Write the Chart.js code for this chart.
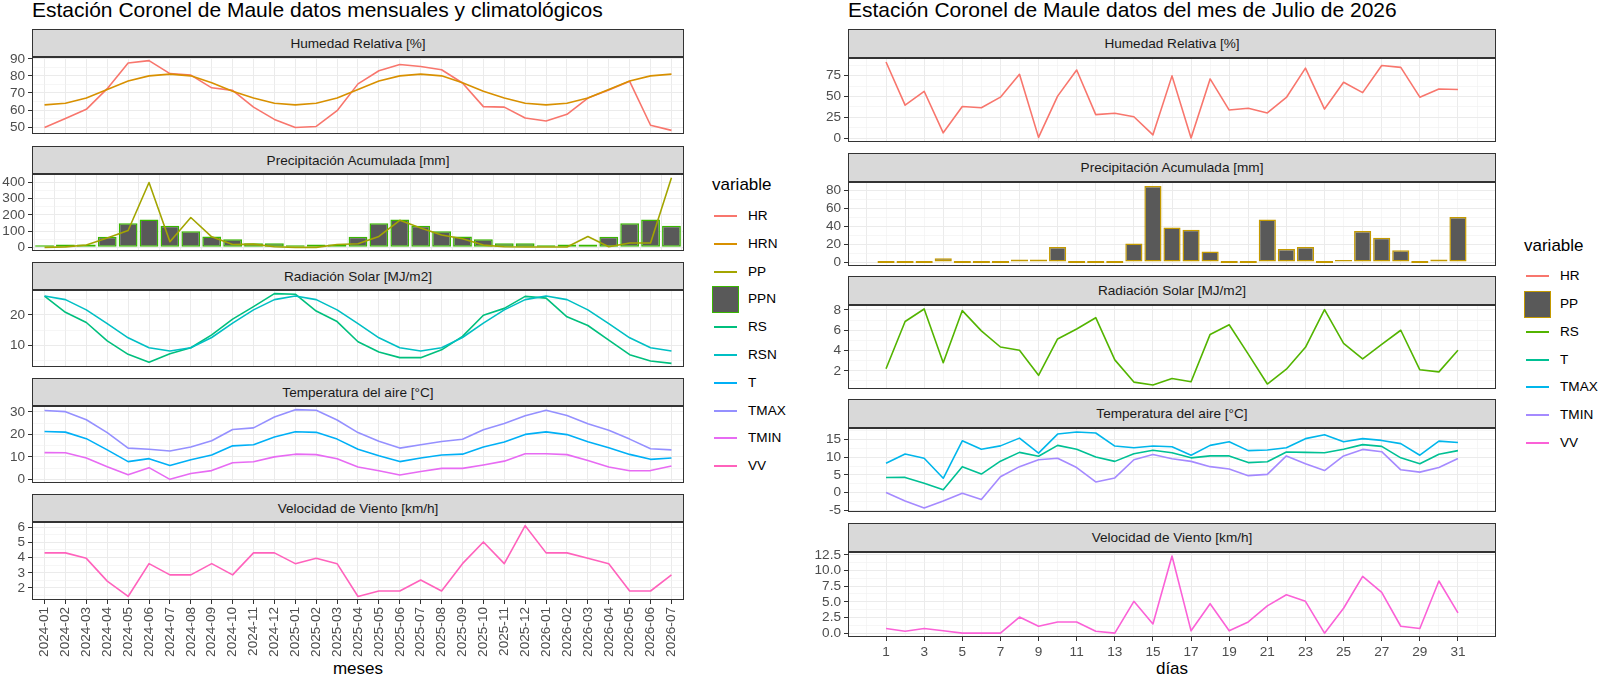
<!DOCTYPE html>
<html>
<head>
<meta charset="utf-8">
<script src="https://cdn.jsdelivr.net/npm/chart.js@4.4.1/dist/chart.umd.min.js"></script>
<style>
body { margin: 0; background: #fff; font-family: "Liberation Sans", Arial, sans-serif; }
#wrap { position: relative; width: 1600px; height: 676px; overflow: hidden; background: #fff; }
#wrap canvas { position: absolute; }
.title { position: absolute; font-size: 21px; line-height: 1; color: #000; white-space: nowrap; }
.strip { position: absolute; box-sizing: border-box; background: #D9D9D9; border: 1px solid #333333; color: #1A1A1A;
         font-size: 13.6px; display: flex; align-items: center; justify-content: center; white-space: nowrap; }
.axt { position: absolute; font-size: 17px; line-height: 20px; color: #000; transform: translateX(-50%); white-space: nowrap; }
.legt { position: absolute; font-size: 17px; line-height: 20px; color: #000; }
.legl { position: absolute; font-size: 13.6px; line-height: 16px; color: #000; }
.key { position: absolute; }
</style>
</head>
<body>
<div id="wrap">
  <div class="title" style="left:32px;top:-1px">Estación Coronel de Maule datos mensuales y climatológicos</div>
  <div class="title" style="left:848px;top:-1px">Estación Coronel de Maule datos del mes de Julio de 2026</div>
  <div class="axt" style="left:358px;top:659px">meses</div>
  <div class="axt" style="left:1172px;top:659px">días</div>
</div>
<script>
// ---- datos mensuales (2024-01 .. 2026-07)
var meses = ['2024-01','2024-02','2024-03','2024-04','2024-05','2024-06','2024-07','2024-08','2024-09','2024-10','2024-11','2024-12',
             '2025-01','2025-02','2025-03','2025-04','2025-05','2025-06','2025-07','2025-08','2025-09','2025-10','2025-11','2025-12',
             '2026-01','2026-02','2026-03','2026-04','2026-05','2026-06','2026-07'];
var HR   = [49.8, 55, 60.4, 72.5, 87.5, 88.9, 81.3, 80.4, 73, 71.5, 61.7, 54.5, 49.8, 50.4, 59.6, 75.3, 83, 86.6, 85.5, 83.6, 75.8, 62, 61.7, 55.3, 53.6, 57.5, 67, 71.7, 76.8, 51.1, 48.1];
var HRN  = [63, 64, 67, 72, 77, 80, 81, 80, 76, 71, 67, 64, 63, 64, 67, 72, 77, 80, 81, 80, 76, 71, 67, 64, 63, 64, 67, 72, 77, 80, 81];
var PP   = [0, 3, 15, 58, 104, 400, 35, 184, 65, 18, 20, 4, 0, 0, 18, 22, 67, 167, 120, 76, 53, 14, 4, 2, 2, 2, 67, 4, 27, 27, 430];
var PPN  = [10, 17, 17, 65, 148, 172, 133, 100, 67, 50, 25, 25, 10, 17, 17, 65, 148, 172, 133, 100, 67, 50, 25, 25, 10, 17, 17, 65, 148, 172, 133];
var RS   = [26.3, 20.9, 17.5, 11.4, 6.9, 4.3, 7.1, 9.1, 13.4, 18.6, 22.8, 27.1, 26.9, 21.3, 17.8, 11.1, 7.7, 5.8, 5.8, 8.4, 12.9, 19.9, 22.2, 26.2, 25.6, 19.4, 16.5, 11.6, 6.8, 4.7, 3.9];
var RSN  = [26.3, 25.1, 21.7, 17.1, 12.4, 9.1, 8.0, 9.1, 12.5, 17.3, 21.7, 25.1, 26.3, 25.1, 21.7, 17.1, 12.4, 9.1, 8.0, 9.1, 12.5, 17.3, 21.7, 25.1, 26.3, 25.1, 21.7, 17.1, 12.4, 9.1, 8.0];
var T    = [21.3, 21, 18.1, 13.1, 7.9, 9.2, 6.2, 8.7, 10.8, 14.9, 15.4, 18.8, 21.2, 20.9, 17.9, 13.4, 10.5, 7.9, 9.5, 10.8, 11.2, 14.4, 16.6, 20, 21.1, 19.9, 16.7, 14.1, 11.1, 8.9, 9.5];
var TMAX = [30.6, 30.1, 26.5, 20.8, 13.9, 13.4, 12.6, 14.4, 17.2, 22.2, 22.9, 27.7, 31, 30.7, 26.4, 20.8, 16.9, 13.9, 15.4, 16.8, 17.8, 22.1, 24.8, 28.3, 30.7, 28.4, 24.7, 21.8, 17.9, 13.6, 13.1];
var TMIN = [11.9, 11.8, 9.5, 5.6, 2, 5.2, 0, 2.6, 3.9, 7.4, 7.8, 10, 11.2, 11, 9.2, 5.5, 3.8, 1.9, 3.5, 4.9, 4.9, 6.4, 8.1, 11.4, 11.4, 11, 8.4, 5.5, 3.8, 3.9, 5.9];
var VV   = [4.31, 4.31, 3.95, 2.45, 1.44, 3.6, 2.86, 2.86, 3.6, 2.86, 4.31, 4.31, 3.6, 3.95, 3.6, 1.44, 1.8, 1.8, 2.52, 1.8, 3.6, 5.03, 3.6, 6.1, 4.31, 4.31, 3.95, 3.6, 1.8, 1.8, 2.86];

// ---- datos diarios julio 2026
var dias  = [1, 2, 3, 4, 5, 6, 7, 8, 9, 10, 11, 12, 13, 14, 15, 16, 17, 18, 19, 20, 21, 22, 23, 24, 25, 26, 27, 28, 29, 30, 31];
var HRd   = [91.2, 39.6, 56.2, 6.6, 38, 36.5, 49.2, 76.5, 1.2, 50.4, 81.6, 28.4, 30, 25.8, 4.2, 74.6, 0.4, 71, 33.8, 36, 30.3, 48.8, 83.9, 35, 66.9, 54.6, 87, 84.7, 49.2, 58.9, 58.4];
var PPd   = [0, 0, 0, 4.3, 0, 0, 0, 2.9, 2.9, 16.8, 0, 0, 0, 20.7, 85, 38.6, 36, 11.8, 0, 0, 47.5, 14.6, 16.8, 0, 1.4, 34.6, 27.1, 13.2, 0, 2.9, 50.4];
var RSd   = [2.2, 6.86, 8.1, 2.8, 7.94, 5.94, 4.35, 4.03, 1.56, 5.14, 6.13, 7.24, 3.08, 0.89, 0.6, 1.24, 0.92, 5.59, 6.54, 3.65, 0.7, 2.16, 4.32, 8.03, 4.7, 3.17, 4.6, 6, 2.1, 1.9, 4.03];
var Td    = [4.25, 4.3, 2.65, 0.8, 7.35, 5.25, 8.9, 11.4, 10.3, 13.4, 12.3, 10.1, 8.85, 11, 12, 11.3, 9.85, 10.4, 10.4, 8.5, 8.75, 11.5, 11.4, 11.3, 12.3, 13.6, 13.1, 9.85, 8.2, 10.85, 11.9];
var TMAXd = [8.3, 10.95, 9.75, 4.05, 14.7, 12.3, 13.25, 15.45, 11.2, 16.6, 17.2, 16.9, 13.2, 12.7, 13.2, 13, 10.6, 13.4, 14.4, 11.9, 12.1, 12.7, 15.3, 16.4, 14.4, 15.3, 14.8, 13.9, 10.6, 14.6, 14.2];
var TMINd = [0, -2.4, -4.4, -2.4, -0.2, -2, 4.5, 7.35, 9.3, 9.75, 7.1, 3, 4.15, 9.3, 10.8, 9.6, 8.85, 7.35, 6.7, 4.8, 5.15, 10.4, 8.2, 6.25, 10.4, 12.25, 11.6, 6.45, 5.8, 7.1, 9.65];
var VVd   = [0.73, 0.31, 0.73, 0.37, 0, 0, 0, 2.56, 1.1, 1.78, 1.78, 0.31, 0, 5.07, 1.46, 12.3, 0.37, 4.7, 0.37, 1.78, 4.34, 6.12, 5.07, 0, 3.97, 9.05, 6.49, 1.1, 0.73, 8.32, 3.24];

// ---- tick labels
var yTicksHR = [50, 60, 70, 80, 90], yTicksPP = [0, 100, 200, 300, 400], yTicksRS = [10, 20], yTicksT = [0, 10, 20, 30], yTicksVV = [2, 3, 4, 5, 6];
var yTicksHRd = [0, 25, 50, 75], yTicksPPd = [0, 20, 40, 60, 80], yTicksRSd = [2, 4, 6, 8], yTicksTd = [-5, 0, 5, 10, 15], yTicksVVd = [0, 2.5, 5, 7.5, 10, 12.5];
var xTicksDias = [1, 3, 5, 7, 9, 11, 13, 15, 17, 19, 21, 23, 25, 27, 29, 31];

Chart.defaults.font.family = '"Liberation Sans", Arial, sans-serif';
Chart.defaults.font.size = 13.6;
Chart.defaults.color = '#4D4D4D';
Chart.defaults.animation = false;
Chart.defaults.responsive = false;
Chart.defaults.plugins.legend.display = false;
Chart.defaults.plugins.tooltip.enabled = false;

var wrap = document.getElementById('wrap');

function addDiv(cls, css, text) {
    var d = document.createElement('div');
    d.className = cls;
    for (var k in css) d.style[k] = css[k];
    if (text) d.textContent = text;
    wrap.appendChild(d);
    return d;
}

// ggplot-like range: data range + 5%
function rangeOf(list, withZero) {
    var lo = Infinity, hi = -Infinity;
    list.forEach(function (a) { a.forEach(function (v) { if (v < lo) lo = v; if (v > hi) hi = v; }); });
    if (withZero) { lo = Math.min(lo, 0); hi = Math.max(hi, 0); }
    var e = (hi - lo) * 0.05;
    return [lo - e, hi + e];
}

function minorsOf(major, lo, hi) {
    var step = major[1] - major[0], out = [];
    for (var i = -1; i < major.length; i++) {
        var v = i < 0 ? major[0] - step / 2 : major[i] + step / 2;
        if (v > lo && v < hi) out.push(v);
    }
    return out;
}

var panelBorder = {
    id: 'panelBorder',
    afterDraw: function (chart) {
        var a = chart.chartArea, ctx = chart.ctx;
        ctx.save();
        ctx.strokeStyle = '#333333';
        ctx.lineWidth = 1;
        ctx.strokeRect(Math.round(a.left) + 0.5, Math.round(a.top) + 0.5, Math.round(a.right - a.left) - 1, Math.round(a.bottom - a.top) - 1);
        ctx.restore();
    }
};

function gridOpts(minorList) {
    var isMinor = function (c) { return c.tick && minorList.indexOf(c.tick.value) >= 0; };
    return {
        color: function (c) { return isMinor(c) ? '#F0F0F0' : '#EBEBEB'; },
        lineWidth: function (c) { return isMinor(c) ? 0.6 : 1; },
        tickColor: function (c) { return isMinor(c) ? 'rgba(0,0,0,0)' : '#333333'; },
        tickLength: 4
    };
}

var LEFT  = { canvasLeft: 0,   plotLeft: 32,  plotRight: 684,  top0: 29.3, period: 116.2, stripH: 27,   plotH: 79, axisW: 32, axisH: 62,
              xMin: -0.6, xMax: 30.6 };
var RIGHT = { canvasLeft: 790, plotLeft: 848, plotRight: 1496, top0: 29.3, period: 123.35, stripH: 27.5, plotH: 86, axisW: 58, axisH: 24,
              xMin: -0.995, xMax: 32.995 };

function drawPanel(g, k, strip, series, yMajor, yFmt, bottom) {
    var stripTop = Math.round(g.top0 + g.period * k);
    var plotTop = Math.round(stripTop + g.stripH);
    addDiv('strip', { left: g.plotLeft + 'px', top: stripTop + 'px', width: (g.plotRight - g.plotLeft) + 'px', height: (plotTop - stripTop + 1) + 'px' }, strip);

    var padT = 10, padB = bottom ? 2 : 10, axH = bottom ? g.axisH : 0;
    var cv = document.createElement('canvas');
    cv.width = g.plotRight - g.canvasLeft + 8;
    cv.height = padT + g.plotH + axH + padB;
    cv.style.left = g.canvasLeft + 'px';
    cv.style.top = (plotTop - padT) + 'px';
    wrap.appendChild(cv);

    var hasBar = series.some(function (s) { return s.bar; });
    var yr = rangeOf(series.map(function (s) { return s.y; }), hasBar);
    var yMinor = minorsOf(yMajor, yr[0], yr[1]);

    var monthly = g === LEFT;
    var xMajor = monthly ? meses.map(function (m, i) { return i; }) : xTicksDias;
    var xMinor = monthly ? [] : minorsOf(xTicksDias, g.xMin, g.xMax);
    var xs = monthly ? meses.map(function (m, i) { return i; }) : dias;

    var datasets = series.map(function (s, i) {
        var pts = s.y.map(function (v, j) { return { x: xs[j], y: v }; });
        if (s.bar) {
            return { type: 'bar', data: pts, backgroundColor: '#595959', borderColor: s.color, borderWidth: 1.5,
                     borderSkipped: false, minBarLength: 2, barPercentage: 0.9, categoryPercentage: 1, order: 50 };
        }
        return { type: 'line', data: pts, borderColor: s.color, borderWidth: 1.6, pointRadius: 0, tension: 0,
                 borderJoinStyle: 'round', fill: false, order: series.length - i };
    });

    new Chart(cv, {
        type: hasBar ? 'bar' : 'line',
        data: { datasets: datasets },
        plugins: [panelBorder],
        options: {
            layout: { padding: { top: padT, bottom: padB, left: 0, right: 8 } },
            scales: {
                x: {
                    type: 'linear', offset: false, bounds: 'data', min: g.xMin, max: g.xMax,
                    afterBuildTicks: function (s) { s.ticks = xMajor.concat(xMinor).map(function (v) { return { value: v }; }); },
                    afterFit: function (s) { s.height = axH; },
                    grid: Object.assign(gridOpts(xMinor), { drawTicks: bottom }),
                    border: { display: false },
                    ticks: {
                        display: bottom, autoSkip: false, padding: 3,
                        maxRotation: monthly ? 90 : 0, minRotation: monthly ? 90 : 0,
                        callback: function (v) {
                            if (xMinor.indexOf(v) >= 0) return '';
                            return monthly ? meses[v] : String(v);
                        }
                    }
                },
                y: {
                    type: 'linear', bounds: 'data', min: yr[0], max: yr[1],
                    afterBuildTicks: function (s) { s.ticks = yMajor.concat(yMinor).map(function (v) { return { value: v }; }); },
                    afterFit: function (s) { s.width = g.axisW; },
                    grid: gridOpts(yMinor),
                    border: { display: false },
                    ticks: {
                        padding: 3, autoSkip: false,
                        callback: function (v) { return yMinor.indexOf(v) >= 0 ? '' : yFmt(v); }
                    }
                }
            }
        }
    });
}

function plain(v) { return String(v); }
function oneDec(v) { return v.toFixed(1); }

// ---- panels izquierda
drawPanel(LEFT, 0, 'Humedad Relativa [%]', [{ y: HR, color: '#F8766D' }, { y: HRN, color: '#D89000' }], yTicksHR, plain, false);
drawPanel(LEFT, 1, 'Precipitación Acumulada [mm]', [{ y: PP, color: '#A3A500' }, { y: PPN, color: '#39B600', bar: true }], yTicksPP, plain, false);
drawPanel(LEFT, 2, 'Radiación Solar [MJ/m2]', [{ y: RS, color: '#00BF7D' }, { y: RSN, color: '#00BFC4' }], yTicksRS, plain, false);
drawPanel(LEFT, 3, 'Temperatura del aire [°C]', [{ y: T, color: '#00B0F6' }, { y: TMAX, color: '#9590FF' }, { y: TMIN, color: '#E76BF3' }], yTicksT, plain, false);
drawPanel(LEFT, 4, 'Velocidad de Viento [km/h]', [{ y: VV, color: '#FF62BC' }], yTicksVV, plain, true);

// ---- panels derecha
drawPanel(RIGHT, 0, 'Humedad Relativa [%]', [{ y: HRd, color: '#F8766D' }], yTicksHRd, plain, false);
drawPanel(RIGHT, 1, 'Precipitación Acumulada [mm]', [{ y: PPd, color: '#C49A00', bar: true }], yTicksPPd, plain, false);
drawPanel(RIGHT, 2, 'Radiación Solar [MJ/m2]', [{ y: RSd, color: '#53B400' }], yTicksRSd, plain, false);
drawPanel(RIGHT, 3, 'Temperatura del aire [°C]', [{ y: Td, color: '#00C094' }, { y: TMAXd, color: '#00B6EB' }, { y: TMINd, color: '#A58AFF' }], yTicksTd, plain, false);
drawPanel(RIGHT, 4, 'Velocidad de Viento [km/h]', [{ y: VVd, color: '#FB61D7' }], yTicksVVd, oneDec, true);

// ---- leyendas
function legend(x, titleY, firstY, step, items) {
    addDiv('legt', { left: x + 'px', top: (titleY - 10) + 'px' }, 'variable');
    items.forEach(function (it, i) {
        var cy = Math.round(firstY + step * i);
        if (it.box) {
            addDiv('key', { left: x + 'px', top: (cy - 13) + 'px', width: '27px', height: '27px', boxSizing: 'border-box',
                            background: '#595959', border: '1.5px solid ' + it.color });
        } else {
            addDiv('key', { left: (x + 2) + 'px', top: (cy - 1) + 'px', width: '23px', height: '2px', background: it.color });
        }
        addDiv('legl', { left: (x + 36) + 'px', top: (cy - 8) + 'px' }, it.name);
    });
}

legend(712, 185, 216, 27.8, [
    { name: 'HR', color: '#F8766D' }, { name: 'HRN', color: '#D89000' }, { name: 'PP', color: '#A3A500' },
    { name: 'PPN', color: '#39B600', box: true }, { name: 'RS', color: '#00BF7D' }, { name: 'RSN', color: '#00BFC4' },
    { name: 'T', color: '#00B0F6' }, { name: 'TMAX', color: '#9590FF' }, { name: 'TMIN', color: '#E76BF3' }, { name: 'VV', color: '#FF62BC' }
]);
legend(1524, 246, 276, 27.85, [
    { name: 'HR', color: '#F8766D' }, { name: 'PP', color: '#C49A00', box: true }, { name: 'RS', color: '#53B400' },
    { name: 'T', color: '#00C094' }, { name: 'TMAX', color: '#00B6EB' }, { name: 'TMIN', color: '#A58AFF' }, { name: 'VV', color: '#FB61D7' }
]);
</script>
</body>
</html>
